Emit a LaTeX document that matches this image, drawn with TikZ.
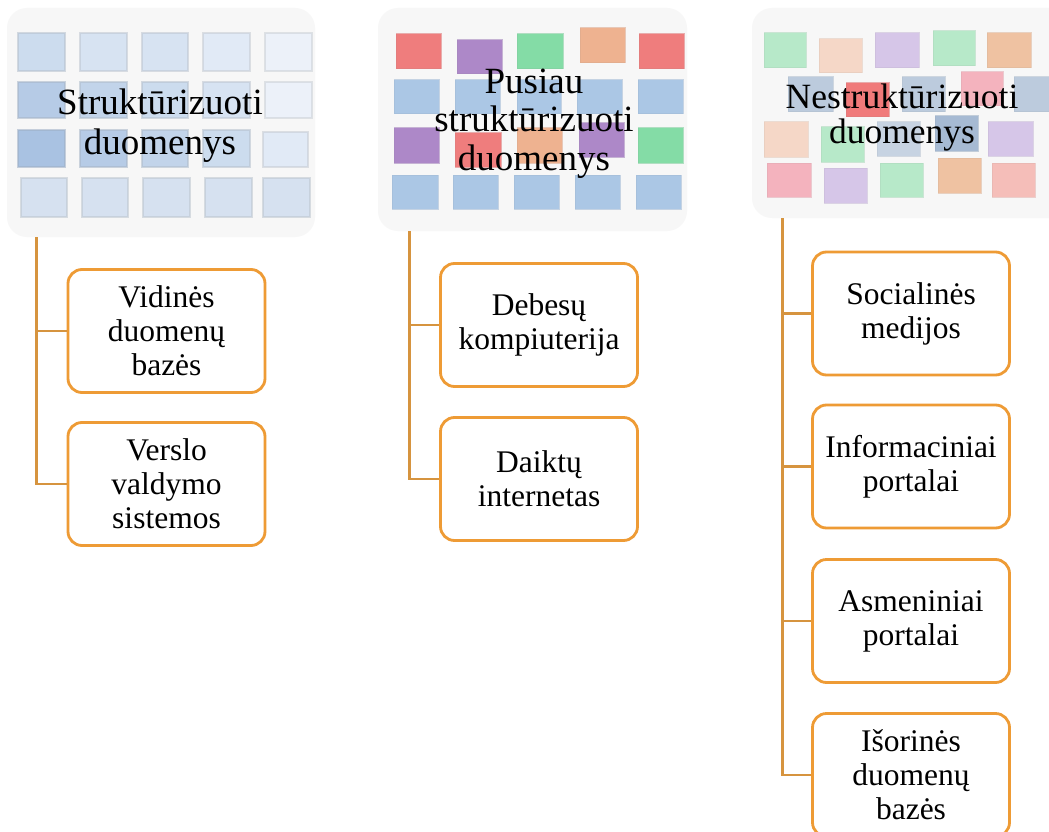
\documentclass[tikz,border=0pt]{standalone}
\usepackage{fontspec}
\setmainfont{Liberation Serif}
\usetikzlibrary{calc}

\definecolor{boxline}{HTML}{EE9B35}
\definecolor{connline}{HTML}{D6943F}
\definecolor{panel}{HTML}{F7F7F7}
% blue shades of the structured grid
\definecolor{sbA}{HTML}{C2D4EA}
\definecolor{sbB}{HTML}{CCDCEE}
\definecolor{sbC}{HTML}{D7E3F2}
\definecolor{sbD}{HTML}{E1EAF6}
\definecolor{sbE}{HTML}{ECF1F9}
\definecolor{sbF}{HTML}{B6CBE6}
\definecolor{sbG}{HTML}{A9C2E2}
\definecolor{sbH}{HTML}{D6E1F0}
% semi-structured tiles
\definecolor{qRed}{HTML}{EF7D7D}
\definecolor{qPur}{HTML}{AD88C8}
\definecolor{qGrn}{HTML}{84DCA6}
\definecolor{qOrg}{HTML}{EEB290}
\definecolor{qBlu}{HTML}{ABC7E5}
% unstructured tiles
\definecolor{uGrn}{HTML}{B7E9C9}
\definecolor{uPch}{HTML}{F5D7C7}
\definecolor{uPur}{HTML}{D6C6E8}
\definecolor{uOrg}{HTML}{EFC2A2}
\definecolor{uBlu}{HTML}{BCCBDD}
\definecolor{uRed}{HTML}{F07A7A}
\definecolor{uPnk}{HTML}{F4B3BE}
\definecolor{uBlD}{HTML}{A6BAD3}
\definecolor{uBlL}{HTML}{C7D3E2}
\definecolor{uSal}{HTML}{F5BEB9}

\begin{document}
\begin{tikzpicture}[x=1pt,y=-1pt,
  panelbox/.style={fill=panel, rounded corners=20pt, inner sep=0pt},
  btile/.style={fill=#1, draw=#1!70!gray, draw opacity=0.55, line width=1.4pt},
  ctile/.style={fill=#1, draw=#1!85!gray, draw opacity=0.6, line width=1pt},
  headtext/.style={align=center, inner sep=0pt, text=black},
  itembox/.style={draw=boxline, line width=2.8pt, fill=white, rounded corners=14pt,
    minimum width=197pt, minimum height=123pt, align=center, inner sep=0pt,
    font=\fontsize{31.5}{34}\selectfont},
  conn/.style={draw=connline, line width=2.8pt}]

\path[use as bounding box] (0,0) rectangle (1049,832);
\clip (0,0) rectangle (1049,832);
\fill[white] (0,0) rectangle (1049,832);

% ---------- header panels ----------
\node[panelbox, minimum width=308pt, minimum height=229pt] (h1) at (161,122.5) {};
\node[panelbox, minimum width=309pt, minimum height=223pt] (h2) at (532.5,119.5) {};
\node[panelbox, minimum width=320pt, minimum height=210pt] (h3) at (912,113) {};

% ---------- structured grid ----------
\path[btile=sbB] (18,33) rectangle (65,71);
\path[btile=sbC] (80,33) rectangle (127,71);
\path[btile=sbC] (142,33) rectangle (188,71);
\path[btile=sbD] (203,33) rectangle (250,71);
\path[btile=sbE] (265,33) rectangle (312,71);
\path[btile=sbF] (18,82) rectangle (65,118);
\path[btile=sbA] (80,82) rectangle (127,118);
\path[btile=sbB] (142,82) rectangle (188,118);
\path[btile=sbC] (203,82) rectangle (250,118);
\path[btile=sbE] (265,82) rectangle (312,118);
\path[btile=sbG] (18,130) rectangle (65,167);
\path[btile=sbF] (80,130) rectangle (127,167);
\path[btile=sbA] (142,130) rectangle (188,167);
\path[btile=sbB] (203,130) rectangle (250,167);
\path[btile=sbD] (263,132) rectangle (308,167);
\path[btile=sbH] (21,178) rectangle (67,217);
\path[btile=sbH] (82,178) rectangle (128,217);
\path[btile=sbH] (143,178) rectangle (190,217);
\path[btile=sbH] (205,178) rectangle (252,217);
\path[btile=sbH] (263,178) rectangle (310,217);

% ---------- semi-structured grid ----------
\path[ctile=qRed] (396,34) rectangle (441,69);
\path[ctile=qPur] (457,40) rectangle (502,74);
\path[ctile=qGrn] (517,34) rectangle (563,69);
\path[ctile=qOrg] (580,28) rectangle (625,63);
\path[ctile=qRed] (639,34) rectangle (684,69);
\path[ctile=qBlu] (394,80) rectangle (439,114);
\path[ctile=qBlu] (455,80) rectangle (500,114);
\path[ctile=qBlu] (517,80) rectangle (561,114);
\path[ctile=qBlu] (577,80) rectangle (622,114);
\path[ctile=qBlu] (638,80) rectangle (683,114);
\path[ctile=qPur] (394,128) rectangle (439,163);
\path[ctile=qRed] (455,133) rectangle (501,167);
\path[ctile=qOrg] (517,128) rectangle (562,163);
\path[ctile=qPur] (579,123) rectangle (624,157);
\path[ctile=qGrn] (638,128) rectangle (683,163);
\path[ctile=qBlu] (392,175) rectangle (438,209);
\path[ctile=qBlu] (453,175) rectangle (498,209);
\path[ctile=qBlu] (514,175) rectangle (559,209);
\path[ctile=qBlu] (575,175) rectangle (620,209);
\path[ctile=qBlu] (636,175) rectangle (681,209);

% ---------- unstructured scatter ----------
\path[ctile=uGrn] (764,33) rectangle (806,68);
\path[ctile=uPch] (819,39) rectangle (862,73);
\path[ctile=uPur] (875,33) rectangle (919,68);
\path[ctile=uGrn] (933,31) rectangle (975,66);
\path[ctile=uOrg] (987,33) rectangle (1031,68);
\path[ctile=uBlu] (788,77) rectangle (833,112);
\path[ctile=uBlu] (902,77) rectangle (945,112);
\path[ctile=uPnk] (961,72) rectangle (1003,106);
\path[ctile=uBlu] (1014,77) rectangle (1060,112);
\path[ctile=uRed] (846,83) rectangle (889,117);
\path[ctile=uPch] (764,122) rectangle (808,157);
\path[ctile=uGrn] (821,127) rectangle (864,162);
\path[ctile=uBlL] (877,122) rectangle (920,156);
\path[ctile=uBlD] (935,116) rectangle (978,151);
\path[ctile=uPur] (988,122) rectangle (1033,156);
\path[ctile=uPnk] (767,163) rectangle (811,197);
\path[ctile=uPur] (824,168) rectangle (867,203);
\path[ctile=uGrn] (880,163) rectangle (923,197);
\path[ctile=uOrg] (938,158) rectangle (981,193);
\path[ctile=uSal] (992,163) rectangle (1035,197);

% ---------- header titles ----------
\node[headtext, font=\fontsize{37}{40}\selectfont] (t1) at (160,126) {Struktūrizuoti\\duomenys};
\node[headtext, font=\fontsize{37}{38.5}\selectfont] (t2) at (534,123.5) {Pusiau\\struktūrizuoti\\duomenys};
\node[headtext, font=\fontsize{35.5}{35}\selectfont] (t3) at (902,118) {Nestruktūrizuoti\\duomenys};

% ---------- item boxes ----------
\node[itembox] (b11) at (166.5,331) {Vidinės\\duomenų\\bazės};
\node[itembox] (b12) at (166.5,484) {Verslo\\valdymo\\sistemos};
\node[itembox] (b21) at (539,325) {Debesų\\kompiuterija};
\node[itembox] (b22) at (539,479) {Daiktų\\internetas};
\node[itembox] (b31) at (911,313.5) {Socialinės\\medijos};
\node[itembox] (b32) at (911,466.5) {Informaciniai\\portalai};
\node[itembox] (b33) at (911,621) {Asmeniniai\\portalai};
\node[itembox] (b34) at (911,775) {Išorinės\\duomenų\\bazės};

% ---------- connectors ----------
\coordinate (s1) at ([xshift=30pt]h1.south west);
\coordinate (s2) at ([xshift=32pt]h2.south west);
\coordinate (s3) at ([xshift=31pt]h3.south west);
\draw[conn] (s1) |- (b11.west);
\draw[conn] (s1) |- (b12.west);
\draw[conn] (s2) |- (b21.west);
\draw[conn] (s2) |- (b22.west);
\draw[conn] (s3) |- (b31.west);
\draw[conn] (s3) |- (b32.west);
\draw[conn] (s3) |- (b33.west);
\draw[conn] (s3) |- (b34.west);
\end{tikzpicture}
\end{document}
